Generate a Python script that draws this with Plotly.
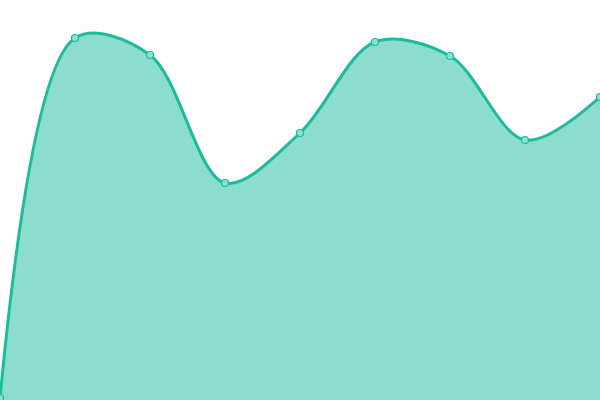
import plotly.graph_objects as go

x_vals = [0, 1, 2, 3, 4, 5, 6, 7, 8]
y_vals = [2, 362, 345, 217, 267, 358, 344, 260, 303]

fig = go.Figure(go.Scatter(
    x=x_vals, y=y_vals,
    mode="lines+markers",
    line=dict(color="#1abc9c", width=3, shape="spline", smoothing=0.95),
    fill="tozeroy",
    fillcolor="rgba(26,188,156,0.5)",
    marker=dict(size=7, color="rgba(140,224,207,1)", line=dict(color="#1abc9c", width=1.2)),
))
fig.update_layout(
    width=600, height=400,
    margin=dict(l=0, r=0, t=0, b=0),
    paper_bgcolor="white", plot_bgcolor="white",
    showlegend=False,
    xaxis=dict(visible=False, range=[0, 8]),
    yaxis=dict(visible=False, range=[0, 400]),
)
fig.write_html("out.html", config={"displayModeBar": False},
               post_script="document.body.style.margin='0';document.body.style.overflow='hidden';")
